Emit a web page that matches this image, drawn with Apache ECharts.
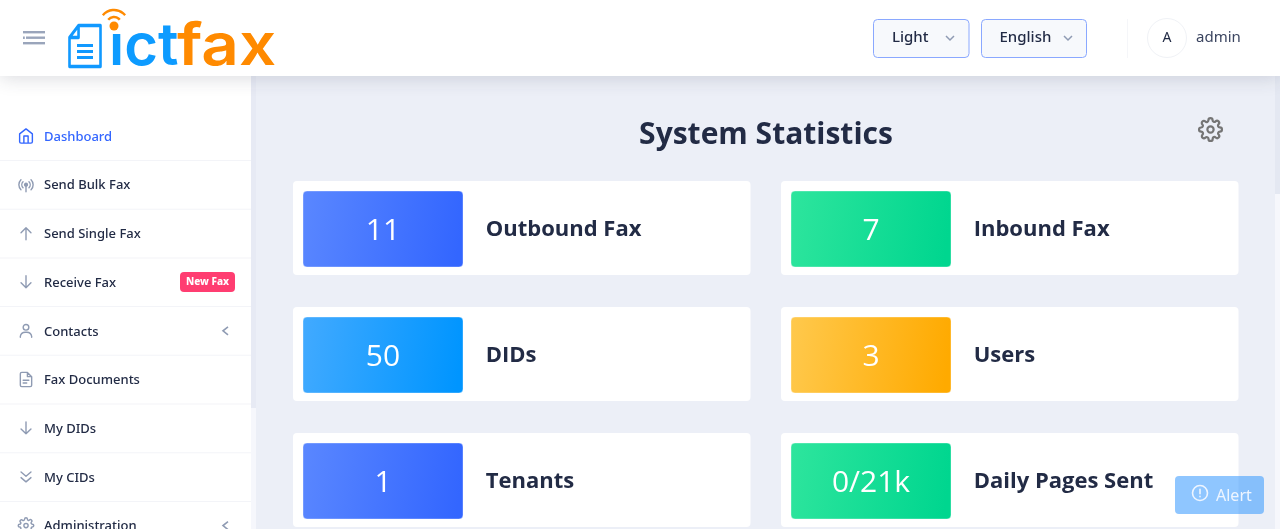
<!DOCTYPE html>
<html>
<head>
<meta charset="utf-8">
<title>ictfax dashboard</title>
<style>
  html, body { margin: 0; padding: 0; background: #eceff7; overflow: hidden; }
  #main { width: 1280px; height: 529px; }
</style>
<script src="https://cdn.jsdelivr.net/npm/echarts@6/dist/echarts.min.js"></script>
</head>
<body>
<div id="main"></div>
<script>
// Dashboard content
const pageTitle = "System Statistics";
const menuLabels = ["Dashboard", "Send Bulk Fax", "Send Single Fax", "Receive Fax", "Contacts", "Fax Documents", "My DIDs", "My CIDs", "Administration"];
const menuIcons = ["home", "radio", "up", "down", "user", "file", "down", "chevrons", "gear"];
const menuExpandable = [false, false, false, false, true, false, false, false, true];
const statLabels = ["Outbound Fax", "Inbound Fax", "DIDs", "Users", "Tenants", "Daily Pages Sent"];
const statValues = ["11", "7", "50", "3", "1", "0/21k"];
const themeLabel = "Light";
const languageLabel = "English";
const userName = "admin";
const userInitial = "A";
const badgeLabel = "New Fax";
const alertLabel = "Alert";

// Tile gradients, one per stat
const tileColors = [
  ["#5a87ff", "#3366ff"], ["#2ee59d", "#00d68f"],
  ["#42aaff", "#0095ff"], ["#ffc94d", "#ffaa00"],
  ["#5a87ff", "#3366ff"], ["#2ee59d", "#00d68f"],
];

const FONT = '"Noto Sans", "Open Sans", sans-serif';
const HEAD_FONT = '"Open Sans", "Noto Sans", sans-serif';
const DARK = "#222b45";
const ICON = "#8f9bb3";

// 24x24 icon outlines
const iconPaths = {
  home: "M3 9l9-7 9 7v11a2 2 0 0 1-2 2H5a2 2 0 0 1-2-2z M9 22V12h6v10",
  radio: "M12 10a2 2 0 1 0 0.01 0z M12 12v10 M16.2 7.8a6 6 0 0 1 0 8.4 M7.8 16.2a6 6 0 0 1 0-8.4 M19.1 4.9a10 10 0 0 1 0 14.2 M4.9 19.1a10 10 0 0 1 0-14.2",
  up: "M12 21V4 M5 11l7-7 7 7",
  down: "M12 3v17 M5 13l7 7 7-7",
  user: "M12 3a4 4 0 1 0 0.01 0z M4 21v-1a7 7 0 0 1 7-6h2a7 7 0 0 1 7 6v1",
  file: "M14 2H6a2 2 0 0 0-2 2v16a2 2 0 0 0 2 2h12a2 2 0 0 0 2-2V8z M14 2v6h6 M8 13h8 M8 17h5",
  chevrons: "M5 5l7 6 7-6 M5 13l7 6 7-6",
  gear: "M12 9a3 3 0 1 0 0.01 0z M19.4 15a1.65 1.65 0 0 0 .33 1.82l.06.06a2 2 0 0 1 0 2.83 2 2 0 0 1-2.83 0l-.06-.06a1.65 1.65 0 0 0-1.82-.33 1.65 1.65 0 0 0-1 1.51V21a2 2 0 0 1-2 2 2 2 0 0 1-2-2v-.09A1.65 1.65 0 0 0 9 19.4a1.65 1.65 0 0 0-1.82.33l-.06.06a2 2 0 0 1-2.83 0 2 2 0 0 1 0-2.83l.06-.06a1.65 1.65 0 0 0 .33-1.82 1.65 1.65 0 0 0-1.51-1H3a2 2 0 0 1-2-2 2 2 0 0 1 2-2h.09A1.65 1.65 0 0 0 4.6 9a1.65 1.65 0 0 0-.33-1.82l-.06-.06a2 2 0 0 1 0-2.83 2 2 0 0 1 2.83 0l.06.06a1.65 1.65 0 0 0 1.82.33H9a1.65 1.65 0 0 0 1-1.51V3a2 2 0 0 1 2-2 2 2 0 0 1 2 2v.09a1.65 1.65 0 0 0 1 1.51 1.65 1.65 0 0 0 1.82-.33l.06-.06a2 2 0 0 1 2.83 0 2 2 0 0 1 0 2.83l-.06.06a1.65 1.65 0 0 0-.33 1.82V9a1.65 1.65 0 0 0 1.51 1H21a2 2 0 0 1 2 2 2 2 0 0 1-2 2h-.09a1.65 1.65 0 0 0-1.51 1z",
  doc: "M7 0H24V24H0V7z M7 0V7H0",
  alert: "M12 2a10 10 0 1 0 0.01 0z M12 7v6 M12 16.5v.5",
};
for (const name in iconPaths) {
  echarts.graphic.registerShape("icon_" + name, echarts.graphic.extendPath(iconPaths[name]));
}

function icon(name, x, y, size, color, width) {
  const s = size / 24;
  return {
    type: "icon_" + name, x: x, y: y, scaleX: s, scaleY: s, silent: true,
    style: { fill: null, stroke: color, lineWidth: width / s, lineCap: "round", lineJoin: "round" },
  };
}

function text(str, x, y, size, color, weight, align, font) {
  return {
    type: "text", x: x, y: y, silent: true,
    style: {
      text: str, fill: color, fontSize: size, fontWeight: weight || 400,
      fontFamily: font || FONT, textAlign: align || "left", textVerticalAlign: "middle",
    },
  };
}

function rect(x, y, w, h, fill, r, extra) {
  return {
    type: "rect", x: x, y: y, silent: true,
    shape: { width: w, height: h, r: r || 0 },
    style: Object.assign({ fill: fill }, extra || {}),
  };
}

function hGrad(from, to) {
  return new echarts.graphic.LinearGradient(0, 0, 1, 0.3, [
    { offset: 0, color: from }, { offset: 1, color: to },
  ]);
}

const els = [];

// page scrollbar
els.push(rect(1275, 76, 5, 453, "#f6f7fc"));
els.push(rect(1275, 76, 5, 118, "#e4e8f2"));

// sidebar
els.push(rect(0, 76, 251, 453, "#ffffff"));
els.push(rect(251, 76, 5, 332, "#e7eaf4"));
els.push(rect(251, 408, 5, 121, "#f6f7fc"));

menuLabels.forEach((label, i) => {
  const y = 136 + i * 48.7;
  const active = i === 0;
  els.push(icon(menuIcons[i], 17.5, y - 8.5, 17, active ? "#3366ff" : ICON, 1.4));
  els.push(text(label, 44, y + 1, 13, active ? "#3366ff" : DARK, 500));
  if (i < menuLabels.length - 1) els.push(rect(0, y + 24, 251, 1, "#f3f4f8"));
  if (menuExpandable[i]) {
    els.push({
      type: "polyline", silent: true,
      shape: { points: [[228, y - 4], [223, y], [228, y + 4]] },
      style: { fill: null, stroke: ICON, lineWidth: 1.6 },
    });
  }
});
els.push(rect(180, 272, 55, 20, "#ff3d71", 4));
els.push(text(badgeLabel, 207.5, 282.5, 10, "#ffffff", 800, "center"));

// title and settings gear
els.push(text(pageTitle, 766, 135, 30, DARK, 700, "center", HEAD_FONT));
els.push(icon("gear", 1198, 117, 25, "#757575", 2.2));

// stat cards, two columns
statLabels.forEach((label, i) => {
  const col = i % 2, row = Math.floor(i / 2);
  const x = col ? 781 : 293;
  const y = 181 + row * 126;
  els.push(rect(x, y, 457.5, 94, "#ffffff", 4));
  els.push(rect(x + 10, y + 10, 160, 76, hGrad(tileColors[i][0], tileColors[i][1]), 4, {
    stroke: "rgba(255,255,255,0.35)", lineWidth: 1,
  }));
  els.push(text(statValues[i], x + 90, y + 50, 30, "#ffffff", 400, "center", HEAD_FONT));
  els.push(text(label, x + 192.7, y + 48.5, 22, DARK, 700, "left", HEAD_FONT));
});

// header with shadow
els.push(rect(0, 0, 1280, 76, "#ffffff", 0, {
  shadowBlur: 18, shadowColor: "rgba(44,51,73,0.18)", shadowOffsetY: 2,
}));
els.push(rect(23, 31, 22, 2.4, "#9aa5bb"));
els.push(rect(26, 36.5, 19, 2.4, "#9aa5bb"));
els.push(rect(23, 36.5, 1.8, 2.4, "#9aa5bb"));
els.push(rect(23, 42, 22, 2.4, "#9aa5bb"));

// logo
els.push({
  type: "icon_doc", x: 69.5, y: 25.5, scaleX: 31 / 24, scaleY: 41 / 24, silent: true,
  style: { fill: null, stroke: "#1199ff", lineWidth: 3, lineJoin: "round", strokeNoScale: true },
});
[44, 50, 56].forEach((y) => els.push(rect(77, y, 16, 3, "#1199ff")));
els.push(text("ict", 109, 48, 58, "#0d9bff", 600, "left", '"Inter", sans-serif'));
const faxMark = text("fax", 177, 48, 58, "#ff8a00", 600, "left", '"Inter", sans-serif');
faxMark.scaleX = 1.13;
els.push(faxMark);
// cover the dot of the i, the wifi mark takes its place
els.push(rect(106, 8, 18, 26, "#ffffff"));
els.push({
  type: "arc", silent: true, shape: { cx: 114, cy: 24.5, r: 7.5, startAngle: -2.45, endAngle: -0.7 },
  style: { fill: null, stroke: "#ff8a00", lineWidth: 2.4 },
});
els.push({
  type: "arc", silent: true, shape: { cx: 114, cy: 24.5, r: 14.5, startAngle: -2.45, endAngle: -0.7 },
  style: { fill: null, stroke: "#ff8a00", lineWidth: 2.4 },
});
els.push({ type: "circle", silent: true, shape: { cx: 114, cy: 26, r: 4.5 }, style: { fill: "#ff8a00" } });

// theme and language selects
[[873.5, 95.5, themeLabel, 892, 950], [981.5, 105, languageLabel, 999.5, 1068]].forEach((b) => {
  els.push(rect(b[0], 19.5, b[1], 38, "#f7f9fc", 4, { stroke: "#8aa8ff", lineWidth: 1 }));
  els.push(text(b[2], b[3], 38, 15, DARK, 500));
  els.push({
    type: "polyline", silent: true,
    shape: { points: [[b[4] - 4, 36], [b[4], 40], [b[4] + 4, 36]] },
    style: { fill: null, stroke: ICON, lineWidth: 1.5 },
  });
});
els.push(rect(1127, 19, 1, 39, "#f5f6f9"));
els.push({
  type: "circle", silent: true, shape: { cx: 1167, cy: 38, r: 19.5 },
  style: { fill: "#ffffff", stroke: "#f0f2f6", lineWidth: 1 },
});
els.push(text(userInitial, 1167, 38, 14, DARK, 400, "center"));
els.push(text(userName, 1196, 38, 15, "#3b4560", 400));

// floating alert
els.push(rect(1175, 476, 89, 38, "rgba(51,152,255,0.55)", 4));
els.push(icon("alert", 1191, 484, 18, "#eef5ff", 1.6));
els.push(text(alertLabel, 1216, 496, 16, "#eef5ff", 400));

const chart = echarts.init(document.getElementById("main"), null, { renderer: "canvas" });
chart.setOption({
  animation: false,
  backgroundColor: "#eceff7",
  graphic: { elements: els },
});
</script>
</body>
</html>
